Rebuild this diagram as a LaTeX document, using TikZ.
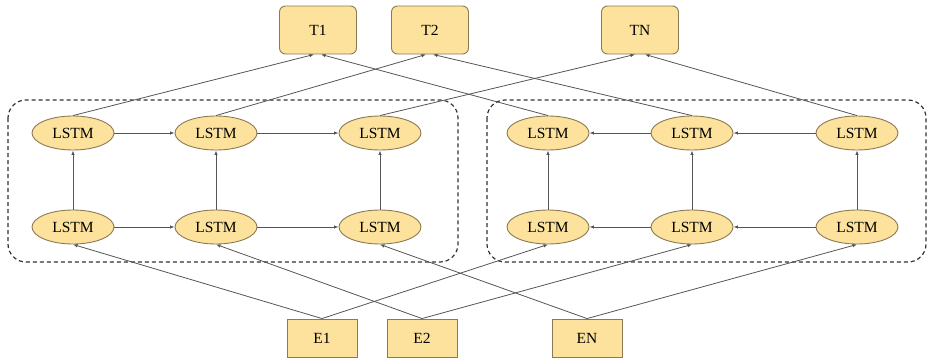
\documentclass[tikz,border=0pt]{standalone}
\usepackage{fontspec}
\setmainfont{Liberation Serif}
\usetikzlibrary{shapes.geometric,arrows.meta}
\definecolor{boxfill}{HTML}{FCE29C}
\definecolor{boxline}{HTML}{8C7A55}
\definecolor{conn}{HTML}{555555}
\begin{document}
\begin{tikzpicture}[x=1pt,y=-1pt,
  lstm/.style={ellipse,draw=boxline,fill=boxfill,line width=0.9pt,minimum width=82pt,minimum height=34pt,inner sep=0pt,font=\fontsize{15.5}{17}\selectfont},
  tbox/.style={rectangle,rounded corners=6pt,draw=boxline,fill=boxfill,line width=0.9pt,minimum width=77pt,minimum height=48pt,inner sep=0pt,font=\fontsize{15.5}{17}\selectfont},
  ebox/.style={rectangle,draw=boxline,fill=boxfill,line width=0.9pt,minimum width=70pt,minimum height=38pt,inner sep=0pt,font=\fontsize{15.5}{17}\selectfont},
  group/.style={draw=black!80,dash pattern=on 4pt off 3pt,line width=1.2pt,rounded corners=18pt},
  arr/.style={draw=conn,line width=0.8pt,-{Latex[length=4.5pt,width=3.5pt]}}
]
\useasboundingbox (0,0) rectangle (930,359);
% dashed groups
\draw[group] (8,100) rectangle (458,262);
\draw[group] (487,100) rectangle (926,262);
% top
\node[tbox] (T1) at (318,30) {T1};
\node[tbox] (T2) at (430,30) {T2};
\node[tbox] (TN) at (640,30) {TN};
% bottom
\node[ebox] (E1) at (322,338) {E1};
\node[ebox] (E2) at (422,338) {E2};
\node[ebox] (EN) at (587,338) {EN};
% forward LSTMs
\node[lstm] (fa1) at (73,133) {LSTM};
\node[lstm] (fa2) at (216,133) {LSTM};
\node[lstm] (fa3) at (380,133) {LSTM};
\node[lstm] (fb1) at (73,227) {LSTM};
\node[lstm] (fb2) at (216,227) {LSTM};
\node[lstm] (fb3) at (380,227) {LSTM};
% backward LSTMs
\node[lstm] (ba1) at (548,133) {LSTM};
\node[lstm] (ba2) at (692,133) {LSTM};
\node[lstm] (ba3) at (857,133) {LSTM};
\node[lstm] (bb1) at (548,227) {LSTM};
\node[lstm] (bb2) at (692,227) {LSTM};
\node[lstm] (bb3) at (857,227) {LSTM};
% horizontal
\draw[arr] (fa1) -- (fa2);
\draw[arr] (fa2) -- (fa3);
\draw[arr] (fb1) -- (fb2);
\draw[arr] (fb2) -- (fb3);
\draw[arr] (ba3) -- (ba2);
\draw[arr] (ba2) -- (ba1);
\draw[arr] (bb3) -- (bb2);
\draw[arr] (bb2) -- (bb1);
% vertical
\foreach \c in {1,2,3}{
  \draw[arr] (fb\c) -- (fa\c);
  \draw[arr] (bb\c) -- (ba\c);
}
% to outputs
\draw[arr] (fa1.north) -- ([xshift=-4pt]T1.south);
\draw[arr] (ba1.north) -- ([xshift=3pt]T1.south);
\draw[arr] (fa2.north) -- ([xshift=-4pt]T2.south);
\draw[arr] (ba2.north) -- ([xshift=3pt]T2.south);
\draw[arr] (fa3.north) -- ([xshift=-5pt]TN.south);
\draw[arr] (ba3.north) -- ([xshift=5pt]TN.south);
% from inputs
\draw[arr] (E1.north) -- (fb1.south);
\draw[arr] (E1.north) -- (bb1.south);
\draw[arr] (E2.north) -- (fb2.south);
\draw[arr] (E2.north) -- (bb2.south);
\draw[arr] (EN.north) -- (fb3.south);
\draw[arr] (EN.north) -- (bb3.south);
\end{tikzpicture}
\end{document}
